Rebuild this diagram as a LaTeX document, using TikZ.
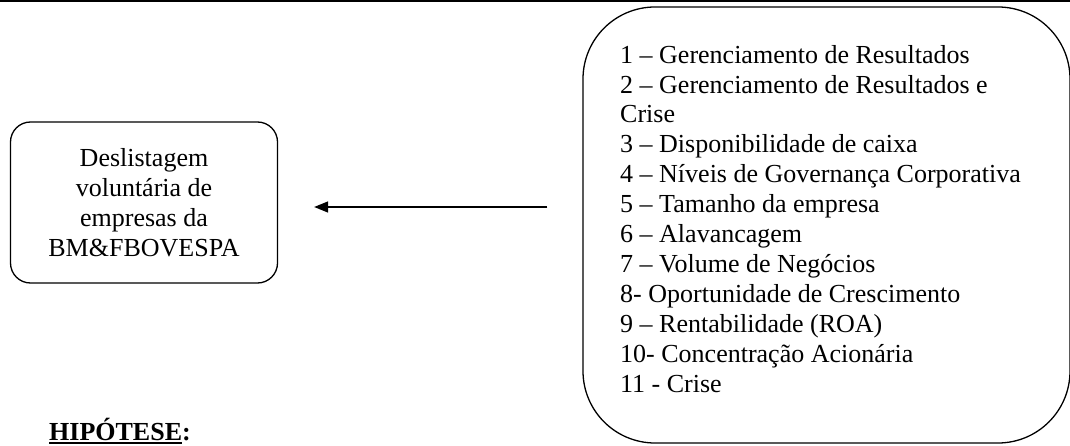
\documentclass[tikz,border=0pt]{standalone}
\usepackage{fontspec}
\setmainfont{Liberation Serif}
\usetikzlibrary{arrows.meta}
\newcommand\thickul[1]{\setbox0\hbox{#1}\rlap{\rule[-3.8pt]{\wd0}{2pt}}\box0}
\begin{document}
\begin{tikzpicture}[x=1pt,y=-1pt,
  txt/.style={font=\fontsize{26}{29.9}\selectfont, inner sep=0pt},
  roundbox/.style={draw, line width=1.3pt, rounded corners=#1, inner sep=0pt}]
\useasboundingbox (0,0) rectangle (1070,446);
\clip (0,0) rectangle (1070,446);
% top rule
\coordinate (tl) at (0,1.2);
\coordinate (tr) at (1070,1.2);
\draw[line width=2pt] (tl) -- (tr);
% left box
\node[roundbox=20pt, txt, align=center, minimum width=267pt, minimum height=161pt] (lbox) at (144,202.5) {Deslistagem\\voluntária de\\empresas da\\BM\&FBOVESPA};
% right box
\node[roundbox=72pt, minimum width=487pt, minimum height=436pt] (rbox) at (826.5,225) {};
\node[txt, align=left, anchor=base west] (factors) at (620,392) {1 – Gerenciamento de Resultados\\
2 – Gerenciamento de Resultados e\\
Crise\\
3 – Disponibilidade de caixa\\
4 – Níveis de Governança Corporativa\\
5 – Tamanho da empresa\\
6 – Alavancagem\\
7 – Volume de Negócios\\
8- Oportunidade de Crescimento\\
9 – Rentabilidade (ROA)\\
10- Concentração Acionária\\
11 - Crise};
% arrow
\coordinate (astart) at ([xshift=-35pt]rbox.west |- 0,207);
\coordinate (aend) at ([xshift=36pt]lbox.east |- 0,207);
\draw[line width=1.4pt, -{Triangle[length=14pt,width=11pt]}] (astart) -- (aend);
% hypothesis label
\node[txt, font=\fontsize{26}{29.9}\selectfont\bfseries, anchor=base west] (hip) at (49,440) {\thickul{HIPÓTESE}:};
\end{tikzpicture}
\end{document}
